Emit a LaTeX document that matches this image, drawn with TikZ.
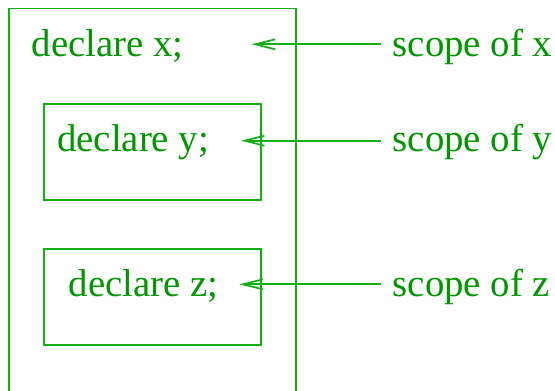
\documentclass[tikz,border=0pt]{standalone}
\usepackage{fontspec}
\setmainfont{Liberation Serif}
\usetikzlibrary{arrows.meta}
\definecolor{txtgreen}{RGB}{0,150,0}
\definecolor{linegreen}{RGB}{20,175,20}
\begin{document}
\begin{tikzpicture}[x=1pt,y=-1pt,
  box/.style={draw=linegreen,line width=1.7pt},
  lbl/.style={text=txtgreen,font=\fontsize{38.8}{40}\selectfont,inner sep=0pt,anchor=base west},
  scopelbl/.style={lbl,inner xsep=11.5pt},
  arr/.style={draw=linegreen,line width=1.7pt,-{Straight Barb[length=20pt,width=10pt,line width=1.7pt]}}]
\useasboundingbox (0,0) rectangle (555,391);
\begin{scope}
\clip (0,0) rectangle (555,391);
\draw[box] (8.7,8.5) rectangle (296.3,420);
\end{scope}
\draw[box] (44.3,104.3) rectangle (260.7,200.3);
\draw[box] (44.3,248.7) rectangle (260.7,344.7);
\node[lbl] (dx) at (31.5,56.7) {declare x;};
\node[lbl] (dy) at (57,151) {declare y;};
\node[lbl] (dz) at (68.5,296.5) {declare z;};
\node[scopelbl] (sx) at (381,56.2) {scope of x};
\node[scopelbl] (sy) at (381,151) {scope of y};
\node[scopelbl] (sz) at (381,296.5) {scope of z};
\coordinate (tx) at (251.7,44.3);
\coordinate (ty) at (241,140.7);
\coordinate (tz) at (239.3,284.3);
\draw[arr] (sx.west |- tx) -- (tx);
\draw[arr] (sy.west |- ty) -- (ty);
\draw[arr] (sz.west |- tz) -- (tz);
\end{tikzpicture}
\end{document}
